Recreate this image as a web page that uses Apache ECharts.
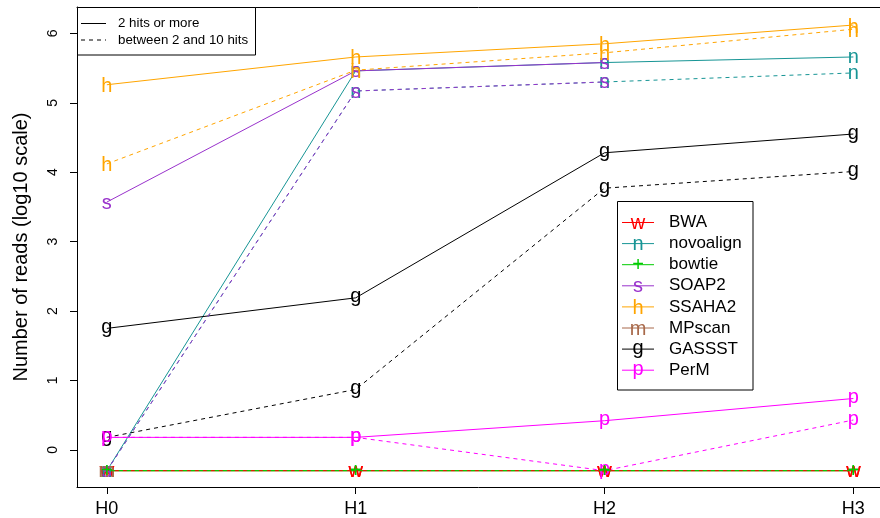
<!DOCTYPE html>
<html>
<head>
<meta charset="utf-8">
<script src="https://cdn.jsdelivr.net/npm/echarts@6/dist/echarts.min.js"></script>
<style>html,body{margin:0;padding:0;background:#fff}#c{width:880px;height:518px}</style>
</head>
<body>
<div id="c"></div>
<script>
// ---- data (log10 scale; -0.3 = zero reads) ----
const categories = ['H0', 'H1', 'H2', 'H3'];
const tools = ['BWA', 'novoalign', 'bowtie', 'SOAP2', 'SSAHA2', 'MPscan', 'GASSST', 'PerM'];
const letters = ['w', 'n', '+', 's', 'h', 'm', 'g', 'p'];
const legendKinds = ['2 hits or more', 'between 2 and 10 hits'];
const yTicks = [0, 1, 2, 3, 4, 5, 6];

const bwaSolid        = [-0.3, -0.3, -0.3, -0.3];
const bwaDashed       = [-0.3, -0.3, -0.3, -0.3];
const novoalignSolid  = [-0.3, 5.46, 5.58, 5.66];
const novoalignDashed = [-0.3, 5.17, 5.30, 5.43];
const bowtieSolid     = [-0.3, -0.3, -0.3, -0.3];
const bowtieDashed    = [-0.3, -0.3, -0.3, -0.3];
const soap2Solid      = [3.57, 5.46, 5.58, null];
const soap2Dashed     = [-0.3, 5.17, 5.30, null];
const ssaha2Solid     = [5.26, 5.66, 5.85, 6.12];
const ssaha2Dashed    = [4.12, 5.47, 5.72, 6.06];
const mpscanSolid     = [-0.3, null, null, null];
const mpscanDashed    = [-0.3, null, null, null];
const gassstSolid     = [1.75, 2.19, 4.28, 4.55];
const gassstDashed    = [0.18, 0.87, 3.77, 4.01];
const permSolid       = [0.18, 0.18, 0.42, 0.74];
const permDashed      = [0.18, 0.18, -0.3, 0.43];

const solidValues  = [bwaSolid, novoalignSolid, bowtieSolid, soap2Solid, ssaha2Solid, mpscanSolid, gassstSolid, permSolid];
const dashedValues = [bwaDashed, novoalignDashed, bowtieDashed, soap2Dashed, ssaha2Dashed, mpscanDashed, gassstDashed, permDashed];

// ---- styles ----
const colors = ['#FF0000', '#179595', '#00CC00', '#9932CC', '#FFA500', '#A8694A', '#000000', '#FF00FF'];
const letterShift = {w: 1, n: 1, '+': 1, s: 1, h: 2, m: 1, g: -1, p: -1};
const FONT = 'Liberation Sans, Arial, Helvetica, sans-serif';

function toPoints(vals) {
  const out = [];
  vals.forEach((v, i) => { if (v !== null) out.push([i + 1, v]); });
  return out;
}

function makeSeries(k, vals, dashed) {
  const isBowtieDashed = dashed && tools[k] === 'bowtie';
  return {
    name: tools[k],
    type: 'line',
    data: toPoints(vals),
    symbol: 'circle',
    symbolSize: 1,
    showSymbol: true,
    z: isBowtieDashed ? 3 : 2,
    itemStyle: {color: 'rgba(0,0,0,0)'},
    lineStyle: {color: colors[k], width: 1, type: dashed ? [4, 4] : 'solid',
      dashOffset: isBowtieDashed ? 4 : 0},
    label: {
      show: true, position: 'inside', formatter: letters[k],
      color: colors[k], fontSize: 20, fontFamily: FONT,
      offset: [0, letterShift[letters[k]]]
    },
    emphasis: {disabled: true},
    silent: true,
    animation: false
  };
}

const series = [];
tools.forEach((name, k) => series.push(makeSeries(k, solidValues[k], false)));
tools.forEach((name, k) => series.push(makeSeries(k, dashedValues[k], true)));

// ---- legends (graphic) ----
const graphics = [];
graphics.push({type: 'rect', shape: {x: 77.5, y: 7.5, width: 178, height: 47.5},
  style: {fill: '#fff', stroke: '#000', lineWidth: 1}, z: 100});
legendKinds.forEach((txt, i) => {
  const y = 23.5 + i * 16.5;
  graphics.push({type: 'line', shape: {x1: 81, y1: y, x2: 106, y2: y},
    style: {stroke: '#000', lineWidth: 1, lineDash: i === 0 ? null : [4, 4]}, z: 101});
  graphics.push({type: 'text', x: 118, y: y,
    style: {text: txt, fill: '#000', font: '13.3px ' + FONT, textVerticalAlign: 'middle'}, z: 101});
});
graphics.push({type: 'rect', shape: {x: 617.5, y: 201.5, width: 135.5, height: 188.5},
  style: {fill: '#fff', stroke: '#000', lineWidth: 1}, z: 100});
tools.forEach((name, k) => {
  const y = 222.5 + k * 21.1;
  graphics.push({type: 'line', shape: {x1: 622, y1: y, x2: 654, y2: y},
    style: {stroke: colors[k], lineWidth: 1}, z: 101});
  graphics.push({type: 'text', x: 638, y: y + letterShift[letters[k]],
    style: {text: letters[k], fill: colors[k], font: '20px ' + FONT,
      textAlign: 'center', textVerticalAlign: 'middle'}, z: 102});
  graphics.push({type: 'text', x: 669, y: y,
    style: {text: name, fill: '#000', font: '17px ' + FONT, textVerticalAlign: 'middle'}, z: 101});
});

const xTickValues = categories.map((c, i) => i + 1);

const option = {
  backgroundColor: '#fff',
  animation: false,
  grid: {left: 77, top: 7, width: 803, height: 480, show: false, containLabel: false},
  xAxis: [{
    type: 'value', min: 0.88, max: 4.107,
    splitLine: {show: false},
    axisLine: {show: true, onZero: false, lineStyle: {color: '#000', width: 1}},
    axisTick: {show: true, length: 7, inside: false, customValues: xTickValues,
      lineStyle: {color: '#000'}},
    axisLabel: {show: true, customValues: xTickValues,
      formatter: v => categories[Math.round(v) - 1] || '',
      color: '#000', fontSize: 18, fontFamily: FONT, margin: 13}
  }, {
    type: 'value', position: 'top', min: 0.88, max: 4.107,
    splitLine: {show: false},
    axisLine: {show: true, onZero: false, lineStyle: {color: '#000', width: 1}},
    axisTick: {show: false}, axisLabel: {show: false}
  }],
  yAxis: {
    type: 'value', min: -0.535, max: 6.38,
    name: 'Number of reads (log10 scale)', nameLocation: 'middle', nameRotate: 90, nameGap: 46,
    nameTextStyle: {color: '#000', fontSize: 20, fontFamily: FONT},
    splitLine: {show: false},
    axisLine: {show: true, onZero: false, lineStyle: {color: '#000', width: 1}},
    axisTick: {show: true, length: 7, inside: false, customValues: yTicks, lineStyle: {color: '#000'}},
    axisLabel: {show: true, customValues: yTicks, rotate: 90, color: '#000',
      fontSize: 14, fontFamily: FONT, margin: 17}
  },
  series: series,
  graphic: graphics
};

const chart = echarts.init(document.getElementById('c'), null, {renderer: 'canvas'});
chart.setOption(option);
</script>
</body>
</html>
